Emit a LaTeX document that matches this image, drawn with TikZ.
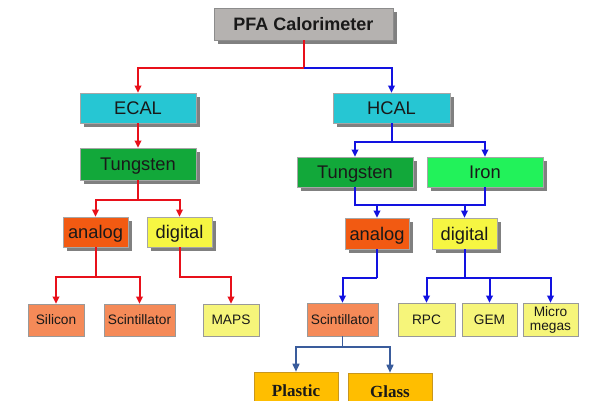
\documentclass[tikz,border=0pt]{standalone}
\usepackage{fontspec}
\setmainfont{Liberation Sans}
\newfontfamily\serifbold{Liberation Serif}
\usetikzlibrary{shadows,arrows.meta}
\definecolor{cgray}{HTML}{B5B2B0}
\definecolor{ccyan}{HTML}{26C6D3}
\definecolor{cdgreen}{HTML}{12A83A}
\definecolor{cbgreen}{HTML}{22F25A}
\definecolor{corange}{HTML}{F25A12}
\definecolor{cyellow}{HTML}{F6F642}
\definecolor{csalmon}{HTML}{F58A58}
\definecolor{clyellow}{HTML}{F6F57A}
\definecolor{cgold}{HTML}{FFBE00}
\definecolor{cgoldb}{HTML}{C8961E}
\definecolor{cred}{HTML}{E8101A}
\definecolor{cblue}{HTML}{1212E0}
\definecolor{csteel}{HTML}{3A5C9C}
\tikzset{
  base/.style={rectangle, inner sep=0pt, text=black!90, line width=0.6pt},
  shad/.style={general shadow={fill=black!50, shadow xshift=4pt, shadow yshift=-4pt}},
  bigbox/.style={base, shad, draw=black!35, font=\fontsize{18.3}{20}\selectfont, minimum height=30pt, text height=13.1pt, text depth=0pt},
  smallbox/.style={base, draw=black!40, font=\fontsize{13.7}{14}\selectfont, minimum height=32pt, text height=9.8pt, text depth=0pt},
  goldbox/.style={base, draw=cgoldb, fill=cgold, font=\serifbold\bfseries\fontsize{17}{18}\selectfont, minimum width=84pt, minimum height=40pt},
  redarrow/.style={draw=cred, line width=2pt, -{Triangle[length=7pt,width=6.5pt]}},
  redline/.style={draw=cred, line width=2pt},
  bluearrow/.style={draw=cblue, line width=2pt, -{Triangle[length=7pt,width=6.5pt]}},
  blueline/.style={draw=cblue, line width=2pt},
  steelarrow/.style={draw=csteel, line width=1.6pt, -{Triangle[length=8pt,width=7pt]}},
}
\begin{document}
\begin{tikzpicture}[x=1pt,y=-1pt]
\useasboundingbox[fill=white] (0,0) rectangle (590,401);
% nodes
\node[bigbox, fill=cgray, draw=black!45, minimum width=179pt, minimum height=32pt, font=\bfseries\fontsize{18}{20}\selectfont] (pfa) at (303.5,24) {PFA Calorimeter};
\node[bigbox, fill=ccyan, minimum width=116pt] (ecal) at (138,108) {ECAL};
\node[bigbox, fill=ccyan, minimum width=117pt] (hcal) at (391.5,108) {HCAL};
\node[bigbox, fill=cdgreen, minimum width=116pt, minimum height=32pt] (tunge) at (138,164) {Tungsten};
\node[bigbox, fill=cdgreen, minimum width=116pt] (tungh) at (355,172) {Tungsten};
\node[bigbox, fill=cbgreen, minimum width=116pt] (iron) at (485,172) {Iron};
\node[bigbox, fill=corange, minimum width=65pt] (anae) at (95.5,232) {analog};
\node[bigbox, fill=cyellow, minimum width=65pt] (dige) at (179.5,232) {digital};
\node[bigbox, fill=corange, minimum width=64pt, minimum height=31pt] (anah) at (377,233.5) {analog};
\node[bigbox, fill=cyellow, minimum width=65pt, minimum height=31pt] (digh) at (464.5,233.5) {digital};
\node[smallbox, fill=csalmon, minimum width=56pt] (sil) at (56,320) {Silicon};
\node[smallbox, fill=csalmon, minimum width=71pt] (scie) at (139.5,320) {Scintillator};
\node[smallbox, fill=clyellow, minimum width=56pt] (maps) at (231,320) {MAPS};
\node[smallbox, fill=csalmon, minimum width=71pt, minimum height=33pt] (scih) at (342.5,319.5) {Scintillator};
\node[smallbox, fill=clyellow, minimum width=57pt, minimum height=33pt] (rpc) at (426.5,319.5) {RPC};
\node[smallbox, fill=clyellow, minimum width=55pt, minimum height=33pt] (gem) at (489.5,319.5) {GEM};
\node[smallbox, fill=clyellow, minimum width=55pt, minimum height=33pt, align=center, text height=, text depth=] (micro) at (550.5,319.5) {Micro\\megas};
\node[goldbox] (plastic) at (296,392) {\raisebox{3pt}{Plastic}};
\node[goldbox] (glass) at (390,393) {\raisebox{3pt}{Glass}};
% junction coordinates
\coordinate (j1) at (303.5,68);
\coordinate (j2) at (138,200);
\coordinate (j3) at (95.5,277);
\coordinate (j4) at (391.5,142);
\coordinate (j5) at (355,205);
\coordinate (j6) at (377,278);
\coordinate (j7) at (464.5,278);
\coordinate (j8) at (342.5,347);
% connectors ECAL side
\draw[redline] (pfa.south) -- (j1);
\draw[redarrow] (j1) -| (ecal.north);
\draw[bluearrow] (j1) -| (hcal.north);
\draw[redarrow] (ecal.south) -- (tunge.north);
\draw[redline] (tunge.south) -- (j2);
\draw[redarrow] (j2) -| (anae.north);
\draw[redarrow] (j2) -| (dige.north);
\draw[redline] (anae.south) -- (j3);
\draw[redarrow] (j3) -| (sil.north);
\draw[redarrow] (j3) -| (scie.north);
\draw[redarrow] (dige.south) |- (maps.north |- j3) -- (maps.north);
% HCAL side
\draw[blueline] (hcal.south) -- (j4);
\draw[bluearrow] (j4) -| (tungh.north);
\draw[bluearrow] (j4) -| (iron.north);
\draw[blueline] (tungh.south) -- (j5) -| (iron.south);
\draw[bluearrow] (anah.north |- j5) -- (anah.north);
\draw[bluearrow] (digh.north |- j5) -- (digh.north);
\draw[blueline] (anah.south) -- (j6);
\draw[bluearrow] (j6) -| (scih.north);
\draw[blueline] (digh.south) -- (j7);
\draw[bluearrow] (j7) -| (rpc.north);
\draw[bluearrow] (j7) -| (micro.north);
\draw[bluearrow] (gem.north |- j7) -- (gem.north);
% scintillator split
\draw[draw=csteel, line width=1.6pt] (scih.south) -- (j8);
\draw[steelarrow] (j8) -| (plastic.north);
\draw[steelarrow] (j8) -| (glass.north);
\end{tikzpicture}
\end{document}
